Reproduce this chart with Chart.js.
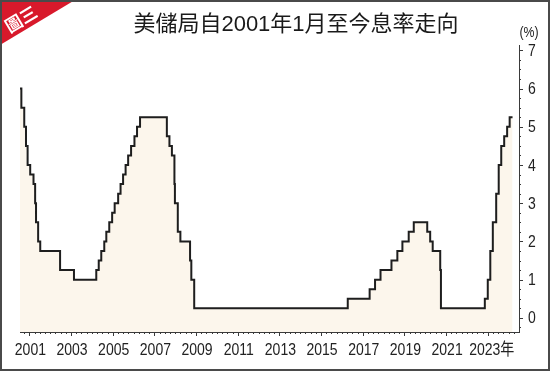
<!DOCTYPE html>
<html>
<head>
<meta charset="utf-8">
<script src="https://cdn.jsdelivr.net/npm/chart.js@4"></script>
<style>
  html, body { margin: 0; padding: 0; background: #fff; }
  #wrap { width: 550px; height: 371px; position: relative; }
</style>
</head>
<body>
<div id="wrap"><canvas id="rate_chart" width="550" height="371"></canvas></div>
<script>
// Fed target rate (upper bound), one entry per change date
const rateDates = [
  '2001-01-01', '2001-01-03', '2001-01-31', '2001-03-20', '2001-04-18', '2001-05-15',
  '2001-06-27', '2001-08-21', '2001-09-17', '2001-10-02', '2001-11-06', '2001-12-11',
  '2002-11-06', '2003-06-25',
  '2004-06-30', '2004-08-10', '2004-09-21', '2004-11-10', '2004-12-14',
  '2005-02-02', '2005-03-22', '2005-05-03', '2005-06-30', '2005-08-09', '2005-09-20',
  '2005-11-01', '2005-12-13',
  '2006-01-31', '2006-03-28', '2006-05-10', '2006-06-29',
  '2007-09-18', '2007-10-31', '2007-12-11',
  '2008-01-22', '2008-01-30', '2008-03-18', '2008-04-30', '2008-10-08', '2008-10-29',
  '2008-12-16',
  '2015-12-16', '2016-12-14',
  '2017-03-15', '2017-06-14', '2017-12-13',
  '2018-03-21', '2018-06-13', '2018-09-26', '2018-12-19',
  '2019-07-31', '2019-09-18', '2019-10-30',
  '2020-03-03', '2020-03-15',
  '2022-03-16', '2022-05-04', '2022-06-15', '2022-07-27', '2022-09-21', '2022-11-02',
  '2022-12-14',
  '2023-02-01', '2023-03-22', '2023-05-03', '2023-06-20'
];
const rateValues = [
  6.5, 6.0, 5.5, 5.0, 4.5, 4.0,
  3.75, 3.5, 3.0, 2.5, 2.0, 1.75,
  1.25, 1.0,
  1.25, 1.5, 1.75, 2.0, 2.25,
  2.5, 2.75, 3.0, 3.25, 3.5, 3.75,
  4.0, 4.25,
  4.5, 4.75, 5.0, 5.25,
  4.75, 4.5, 4.25,
  3.5, 3.0, 2.25, 2.0, 1.5, 1.0,
  0.25,
  0.5, 0.75,
  1.0, 1.25, 1.5,
  1.75, 2.0, 2.25, 2.5,
  2.25, 2.0, 1.75,
  1.25, 0.25,
  0.5, 1.0, 1.75, 2.5, 3.25, 4.0,
  4.5,
  4.75, 5.0, 5.25, 5.25
];
const tickYears = [2001, 2003, 2005, 2007, 2009, 2011, 2013, 2015, 2017, 2019, 2021, 2023];
const tickLabels = ['2001', '2003', '2005', '2007', '2009', '2011', '2013', '2015', '2017', '2019', '2021', '2023年'];
const yTicks = [0, 1, 2, 3, 4, 5, 6, 7];

const titleText = '美儲局自2001年1月至今息率走向';
const badgeText = '圖三';
const unitText = '(%)';

function toYear(s) {
  const d = new Date(s + 'T00:00:00Z');
  const start = Date.UTC(d.getUTCFullYear(), 0, 1);
  return d.getUTCFullYear() + (d - start) / (365 * 86400000);
}
const points = rateDates.map((d, i) => ({x: toYear(d), y: rateValues[i]}));

const numFont = "'Liberation Sans', 'Noto Sans CJK TC', sans-serif";
const axisColor = '#3a3a3a';
const narrow = 0.85; // squeeze digits like the narrow face of the original

function narrowText(ctx, text, x, y, align) {
  ctx.save();
  ctx.translate(x, y);
  ctx.scale(narrow, 1);
  ctx.textAlign = align;
  ctx.fillText(text, 0, 0);
  ctx.restore();
}

const decor = {
  id: 'decor',
  afterDraw(chart) {
    const ctx = chart.ctx;
    const xs = chart.scales.x, ys = chart.scales.y;
    ctx.save();
    ctx.strokeStyle = axisColor;
    ctx.lineWidth = 1;
    // ticks on x (quarterly minor)
    const xBottom = xs.top;
    for (let v = 2000.75; v <= 2024.3; v += 0.25) {
      const px = Math.round(xs.getPixelForValue(v)) + 0.5;
      if (px < chart.chartArea.left || px > chart.chartArea.right) continue;
      const major = Math.abs(v - Math.round(v)) < 1e-6 && (Math.round(v) - 2001) % 2 === 0;
      ctx.beginPath();
      ctx.moveTo(px, xBottom);
      ctx.lineTo(px, xBottom + (major ? 4 : 2));
      ctx.stroke();
    }
    // ticks on y
    const yLeft = ys.left;
    for (let v = -0.25; v <= 7.001; v += 0.25) {
      const py = Math.round(ys.getPixelForValue(v)) + 0.5;
      const major = Math.abs(v - Math.round(v)) < 1e-6;
      ctx.beginPath();
      ctx.moveTo(yLeft, py);
      ctx.lineTo(yLeft + (major ? 4 : 2), py);
      ctx.stroke();
    }
    // tick labels
    ctx.fillStyle = '#222';
    ctx.textBaseline = 'middle';
    ctx.font = '16.5px ' + numFont;
    tickYears.forEach((v, i) => {
      narrowText(ctx, tickLabels[i], xs.getPixelForValue(v) + (i === tickLabels.length - 1 ? 4 : 1), 350, 'center');
    });
    yTicks.forEach((v) => {
      narrowText(ctx, String(v), yLeft + 9, ys.getPixelForValue(v) + 1, 'left');
    });
    ctx.font = '14.5px ' + numFont;
    narrowText(ctx, unitText, 529, 33, 'center');
    // title
    ctx.textAlign = 'center';
    ctx.font = "22px 'Liberation Sans', 'Noto Sans CJK TC', sans-serif";
    ctx.fillStyle = '#1a1a1a';
    ctx.fillText(titleText, 296, 25);
    // red corner badge
    ctx.fillStyle = '#d8192b';
    ctx.beginPath();
    ctx.moveTo(0, 0);
    ctx.lineTo(75, 0);
    ctx.lineTo(0, 45);
    ctx.closePath();
    ctx.fill();
    ctx.translate(21, 19);
    ctx.rotate(-Math.atan2(45, 75));
    ctx.fillStyle = '#fff';
    ctx.font = "bold 17px 'Noto Sans CJK TC', sans-serif";
    ctx.fillText(badgeText, 0, 0);
    ctx.restore();
    // frame
    ctx.save();
    ctx.strokeStyle = '#4a4a4a';
    ctx.lineWidth = 2;
    ctx.strokeRect(1, 1, 548, 369);
    ctx.restore();
  }
};

new Chart(document.getElementById('rate_chart').getContext('2d'), {
  type: 'line',
  data: {
    datasets: [{
      data: points,
      xAxisID: 'xd',
      yAxisID: 'y',
      stepped: true,
      borderColor: '#1e1e1e',
      borderWidth: 2,
      backgroundColor: '#fcf6ec',
      fill: 'start',
      pointRadius: 0
    }]
  },
  options: {
    responsive: false,
    animation: false,
    devicePixelRatio: 1,
    layout: {padding: {left: 20, right: 6, top: 45, bottom: 9}},
    plugins: {legend: {display: false}, tooltip: {enabled: false}},
    scales: {
      xd: {
        type: 'linear',
        display: false,
        min: 2001.02,
        max: 2023.76
      },
      x: {
        type: 'linear',
        position: 'bottom',
        min: 2000.55,
        max: 2024.5,
        afterBuildTicks: (s) => { s.ticks = tickYears.map(v => ({value: v})); },
        afterFit: (s) => { s.height = 30; },
        grid: {display: false},
        border: {display: true, color: axisColor, width: 1},
        ticks: {display: false}
      },
      y: {
        type: 'linear',
        position: 'right',
        min: -0.37,
        max: 7.14,
        afterBuildTicks: (s) => { s.ticks = yTicks.map(v => ({value: v})); },
        afterFit: (s) => { s.width = 25; },
        grid: {display: false},
        border: {display: true, color: axisColor, width: 1},
        ticks: {display: false}
      }
    }
  },
  plugins: [decor]
});
</script>
</body>
</html>
